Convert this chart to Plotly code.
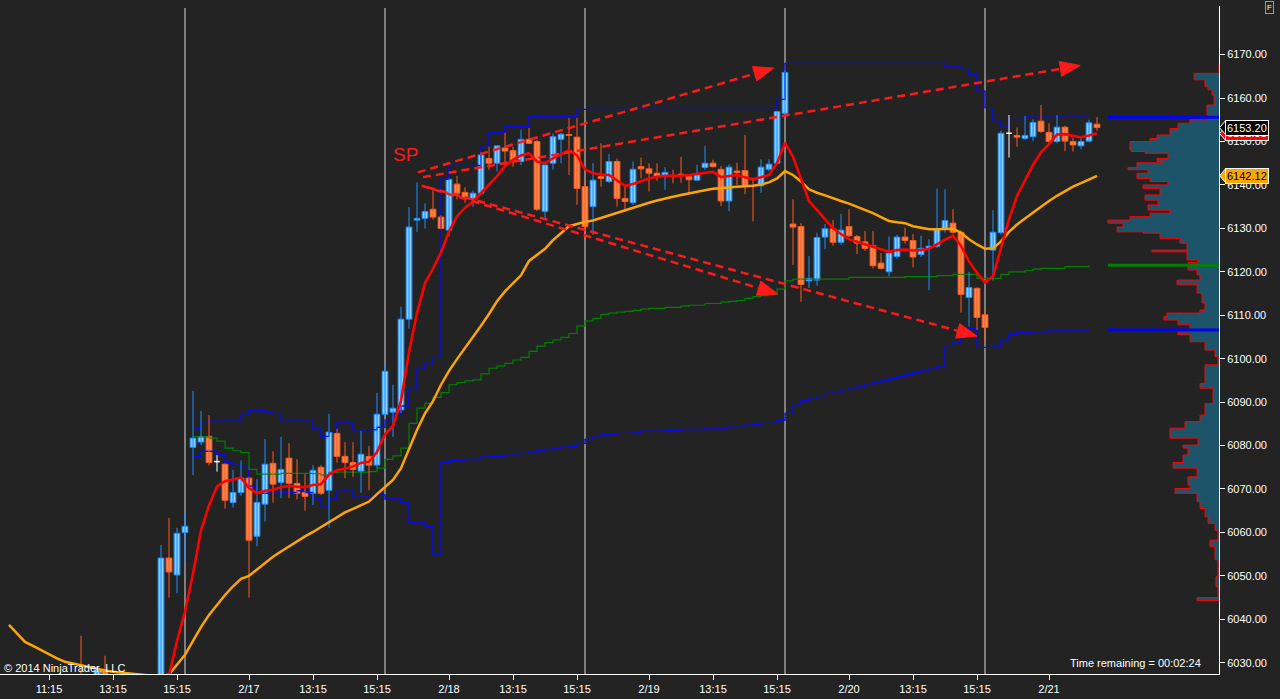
import math
import plotly.graph_objects as go

# ---------------- data ----------------
# 15-minute bars, x = bar index
BAR_IDX = [10, 12, 13] + list(range(20, 138))
OPEN = [6027.0, 6021.0, 6028.3,
        6025.0, 6054.1, 6050.2, 6060.0, 6079.6, 6080.8, 6082.1, 6076.3, 6075.7, 6066.9,
        6069.2, 6072.5, 6059.1, 6066.5, 6075.9, 6071.5, 6077.1, 6071.3, 6069.2, 6069.0,
        6075.0, 6069.7, 6082.8, 6077.5, 6076.1, 6074.1, 6077.5, 6075.5, 6087.2, 6087.7,
        6088.2, 6109.1, 6131.9, 6132.3, 6134.4, 6132.6, 6129.6, 6140.2, 6138.3, 6136.8,
        6138.1, 6146.1, 6145.0, 6148.5, 6147.9, 6145.4, 6150.5, 6150.0, 6133.9, 6145.0,
        6150.5, 6151.6, 6151.0, 6139.6, 6135.0, 6141.9, 6140.8, 6145.4, 6136.9, 6135.9,
        6144.2, 6143.7, 6142.7, 6142.1, 6142.2, 6142.5, 6141.9, 6141.1, 6144.0, 6145.0,
        6143.6, 6136.3, 6143.2, 6143.3, 6141.5, 6139.8, 6143.6, 6145.0, 6156.5, 6131.0,
        6130.4, 6117.9, 6118.1, 6128.0, 6129.9, 6126.8, 6130.4, 6128.1, 6126.9, 6126.0,
        6122.0, 6120.0, 6123.5, 6128.0, 6127.2, 6124.0, 6125.4, 6125.9, 6130.0, 6131.2,
        6129.1, 6114.1, 6116.2, 6110.1, 6125.0, 6129.0, 6151.9, 6151.4, 6150.7, 6151.1,
        6154.7, 6152.1, 6150.0, 6153.3, 6150.0, 6149.0, 6150.1, 6154.0]
HIGH = [6036.2, 6029.0, 6031.6,
        6057.1, 6063.3, 6061.1, 6064.9, 6092.6, 6088.0, 6087.0, 6077.8, 6075.9, 6074.4,
        6076.6, 6072.8, 6072.3, 6081.5, 6078.7, 6082.0, 6080.6, 6076.9, 6073.4, 6075.5,
        6075.5, 6087.3, 6083.8, 6080.8, 6080.8, 6083.4, 6079.9, 6092.1, 6098.9, 6094.0,
        6112.0, 6134.9, 6140.6, 6135.7, 6138.8, 6133.0, 6141.5, 6142.1, 6139.5, 6138.7,
        6147.5, 6148.8, 6149.0, 6152.0, 6148.8, 6152.7, 6153.1, 6150.3, 6144.6, 6151.9,
        6152.0, 6155.4, 6155.4, 6141.1, 6145.0, 6149.6, 6147.1, 6146.1, 6139.6, 6145.4,
        6146.3, 6145.0, 6145.0, 6144.1, 6143.5, 6146.5, 6142.5, 6144.6, 6149.0, 6145.8,
        6144.4, 6144.8, 6145.1, 6151.5, 6141.6, 6145.9, 6145.9, 6157.1, 6166.4, 6136.7,
        6131.2, 6123.6, 6129.0, 6131.0, 6131.9, 6133.3, 6134.4, 6128.5, 6129.4, 6129.4,
        6124.3, 6128.1, 6128.5, 6130.2, 6128.7, 6128.3, 6127.5, 6139.2, 6139.0, 6134.4,
        6129.6, 6120.0, 6116.4, 6111.4, 6134.2, 6152.5, 6156.1, 6153.2, 6155.9, 6155.1,
        6158.4, 6154.2, 6156.1, 6153.6, 6150.9, 6150.9, 6155.0, 6155.6]
LOW = [6020.0, 6019.0, 6022.0,
       6023.0, 6045.0, 6046.0, 6053.3, 6073.2, 6080.1, 6075.4, 6074.0, 6065.5, 6065.7,
       6068.4, 6045.0, 6056.8, 6062.5, 6066.9, 6067.9, 6067.9, 6067.6, 6065.0, 6066.3,
       6068.6, 6061.1, 6076.1, 6072.5, 6072.8, 6069.1, 6069.7, 6074.8, 6086.5, 6082.0,
       6087.5, 6106.9, 6129.2, 6130.0, 6132.0, 6129.8, 6128.1, 6136.7, 6135.9, 6135.0,
       6137.7, 6143.5, 6143.1, 6144.6, 6144.2, 6144.6, 6149.4, 6134.0, 6132.2, 6143.5,
       6145.0, 6142.3, 6135.4, 6127.3, 6128.5, 6139.6, 6140.4, 6135.0, 6133.9, 6135.4,
       6141.5, 6138.5, 6141.0, 6138.9, 6140.4, 6140.5, 6137.9, 6141.0, 6143.5, 6144.0,
       6135.2, 6134.0, 6140.0, 6137.9, 6131.6, 6138.2, 6143.2, 6144.8, 6156.0, 6121.6,
       6113.1, 6116.3, 6116.8, 6125.2, 6126.0, 6126.2, 6128.0, 6124.1, 6124.8, 6120.8,
       6120.5, 6119.0, 6123.0, 6126.5, 6121.0, 6123.4, 6115.8, 6125.5, 6129.0, 6128.8,
       6110.6, 6107.4, 6106.6, 6103.9, 6118.0, 6128.6, 6146.3, 6148.8, 6150.4, 6150.1,
       6152.0, 6149.6, 6149.6, 6147.8, 6147.7, 6148.2, 6149.8, 6152.5]
CLOSE = [6024.0, 6028.3, 6025.5,
         6054.1, 6050.9, 6059.8, 6061.4, 6081.7, 6082.1, 6076.1, 6076.3, 6067.4, 6069.2,
         6072.5, 6058.2, 6066.9, 6075.7, 6071.1, 6074.5, 6071.3, 6069.0, 6068.3, 6074.3,
         6069.0, 6083.1, 6077.5, 6076.1, 6074.5, 6078.0, 6075.5, 6087.2, 6097.1, 6088.6,
         6109.1, 6130.3, 6132.3, 6133.9, 6132.6, 6130.0, 6141.3, 6138.1, 6137.2, 6138.1,
         6146.9, 6145.0, 6149.0, 6147.8, 6145.4, 6150.5, 6149.6, 6134.4, 6144.6, 6151.1,
         6151.7, 6151.4, 6139.2, 6130.4, 6141.1, 6141.5, 6145.4, 6136.9, 6136.2, 6143.6,
         6143.7, 6142.7, 6141.9, 6142.9, 6141.9, 6142.1, 6141.2, 6142.3, 6145.0, 6144.2,
         6136.3, 6144.1, 6142.8, 6139.8, 6141.2, 6144.1, 6144.8, 6156.9, 6165.9, 6130.3,
         6117.1, 6118.5, 6127.9, 6129.9, 6126.8, 6129.6, 6128.3, 6126.6, 6125.4, 6121.4,
         6120.8, 6124.3, 6128.0, 6127.2, 6123.4, 6125.4, 6125.9, 6129.8, 6131.8, 6129.1,
         6114.8, 6116.4, 6109.5, 6107.2, 6129.1, 6151.9, 6151.9, 6151.0, 6151.4, 6154.4,
         6152.3, 6150.0, 6153.3, 6150.1, 6149.2, 6150.0, 6154.3, 6153.2]

# fast moving average (red), starts at bar 21
FAST_MA_START = 21
FAST_MA = [6027.0, 6035.0, 6041.7, 6050.5, 6060.5, 6066.2, 6070.6, 6071.8, 6072.2, 6072.6,
           6070.2, 6069.0, 6069.6, 6069.8, 6070.4, 6070.7, 6070.5, 6070.4, 6070.9, 6071.1,
           6073.3, 6074.3, 6074.7, 6075.2, 6076.0, 6076.3, 6078.5, 6082.6, 6084.5, 6090.3,
           6101.5, 6110.5, 6117.4, 6120.7, 6124.5, 6129.3, 6132.8, 6134.7, 6136.2, 6138.1,
           6140.0, 6142.0, 6144.3, 6145.8, 6146.8, 6147.3, 6145.4, 6145.0, 6146.1, 6147.1,
           6148.0, 6146.8, 6143.6, 6142.7, 6142.4, 6142.3, 6141.1, 6139.8, 6140.2, 6140.9,
           6141.5, 6141.9, 6142.1, 6142.1, 6142.1, 6142.3, 6142.5, 6142.8, 6143.0, 6141.8,
           6142.0, 6142.3, 6141.8, 6141.3, 6141.8, 6142.3, 6145.0, 6149.7, 6146.5, 6141.3,
           6136.3, 6134.2, 6132.0, 6130.0, 6128.7, 6127.5, 6126.9, 6126.3, 6125.8, 6125.2,
           6124.6, 6125.0, 6125.1, 6124.9, 6125.0, 6125.3, 6126.4, 6127.4, 6128.3, 6126.0,
           6122.4, 6119.8, 6117.5, 6119.0, 6125.5, 6132.0, 6137.5, 6141.0, 6144.6, 6147.5,
           6149.4, 6151.6, 6151.7, 6151.3, 6151.0, 6151.4, 6151.9]

# slow moving average (orange), starts at bar 1
SLOW_MA_START = 1
SLOW_MA = [6038.7, 6036.8, 6034.8, 6033.9, 6032.9, 6032.0, 6031.0, 6030.2, 6029.8, 6029.3,
           6028.9, 6028.5, 6028.2, 6027.9, 6027.7, 6027.5, 6027.3, 6027.1, 6026.9, 6026.8,
           6027.3, 6029.6, 6031.8, 6035.0, 6038.2, 6041.0, 6043.4, 6045.6, 6047.6, 6049.3,
           6050.0, 6051.5, 6053.0, 6054.4, 6055.6, 6056.8, 6058.0, 6059.1, 6060.1, 6061.2,
           6062.4, 6063.5, 6064.6, 6065.4, 6066.2, 6067.1, 6068.8, 6070.4, 6072.1, 6074.8,
           6079.4, 6083.6, 6087.4, 6090.2, 6094.0, 6097.2, 6099.9, 6102.4, 6105.0, 6107.6,
           6110.3, 6113.2, 6115.5, 6117.4, 6119.2, 6122.5, 6124.0, 6125.3, 6127.3, 6129.0,
           6130.5, 6131.0, 6131.5, 6131.8, 6132.4, 6133.0, 6133.5, 6134.1, 6134.7, 6135.3,
           6135.9, 6136.4, 6136.9, 6137.3, 6137.7, 6138.1, 6138.4, 6138.8, 6139.1, 6139.3,
           6139.5, 6139.6, 6139.7, 6139.8, 6140.1, 6140.6, 6141.5, 6143.2, 6142.3, 6140.8,
           6139.0, 6138.2, 6137.6, 6136.9, 6136.3, 6135.7, 6135.0, 6134.3, 6133.5, 6132.6,
           6131.7, 6131.4, 6131.2, 6130.5, 6130.1, 6129.8, 6129.8, 6129.9, 6129.9, 6129.0,
           6127.5, 6126.3, 6125.3, 6125.4, 6127.0, 6129.2, 6130.9, 6132.3, 6133.7, 6135.1,
           6136.3, 6137.5, 6138.5, 6139.6, 6140.4, 6141.2, 6142.1]

# step lines (VWAP and bands), start at bar 24
BANDS_START = 24
VWAP = [6082.0, 6082.0, 6081.7, 6081.0, 6079.4, 6078.8, 6078.4, 6074.5, 6073.4, 6073.4,
        6073.4, 6073.6, 6073.6, 6073.6, 6073.6, 6073.5, 6073.2, 6073.8, 6073.9, 6073.9,
        6073.9, 6073.9, 6074.0, 6074.8, 6076.8, 6077.6, 6079.4, 6085.1, 6088.6, 6089.7,
        6091.1, 6092.2, 6094.0, 6094.5, 6094.9, 6095.1, 6096.5, 6097.8, 6098.3, 6098.9,
        6099.7, 6100.3, 6101.7, 6102.9, 6103.7, 6104.3, 6104.9, 6105.8, 6107.5, 6108.7,
        6109.3, 6110.2, 6110.5, 6110.7, 6110.9, 6111.1, 6111.4, 6111.6, 6111.6, 6111.8,
        6111.8, 6112.1, 6112.3, 6112.3, 6112.7, 6112.7, 6113.0, 6113.2, 6113.4, 6113.9,
        6114.3, 6114.5, 6114.8, 6116.0, 6117.9, 6118.3, 6118.3, 6118.3, 6118.3, 6118.3,
        6118.3, 6118.3, 6118.7, 6118.7, 6118.7, 6118.7, 6118.7, 6118.7, 6118.7, 6118.9,
        6118.9, 6118.9, 6118.9, 6119.1, 6119.1, 6119.4, 6119.4, 6119.4, 6118.5, 6118.5,
        6118.5, 6119.4, 6120.0, 6120.0, 6120.3, 6120.6, 6120.8, 6120.8, 6120.8, 6121.2,
        6121.2, 6121.2, 6121.5]
UPPER_BAND = [6084.0, 6085.1, 6085.6, 6085.6, 6085.6, 6085.6, 6087.0, 6088.0, 6088.0, 6087.7,
              6087.4, 6085.6, 6085.6, 6085.6, 6085.6, 6083.8, 6082.1, 6083.2, 6085.4, 6085.4,
              6083.6, 6083.6, 6083.6, 6084.2, 6085.9, 6087.0, 6089.1, 6093.0, 6097.6, 6098.9,
              6100.3, 6141.3, 6144.5, 6144.5, 6144.5, 6144.5, 6149.0, 6152.1, 6152.1, 6153.4,
              6153.4, 6153.4, 6155.7, 6155.7, 6155.7, 6155.7, 6155.7, 6155.7, 6157.4, 6157.4,
              6157.4, 6157.4, 6157.4, 6157.4, 6157.4, 6157.4, 6157.4, 6157.4, 6157.4, 6157.4,
              6157.4, 6157.4, 6157.4, 6157.4, 6157.4, 6157.4, 6157.4, 6157.4, 6157.4, 6157.4,
              6157.4, 6157.4, 6157.4, 6159.7, 6168.0, 6168.0, 6168.0, 6168.0, 6168.0, 6168.0,
              6168.0, 6168.0, 6168.0, 6168.0, 6168.0, 6168.0, 6168.0, 6168.0, 6168.0, 6168.0,
              6168.0, 6168.0, 6168.0, 6168.0, 6167.4, 6167.4, 6167.0, 6165.5, 6161.6, 6157.8,
              6154.7, 6153.3, 6155.1, 6155.1, 6155.6, 6155.6, 6155.6, 6155.6, 6155.6, 6155.6,
              6155.6, 6155.6, 6155.6]
LOWER_BAND = [6077.5, 6078.7, 6078.7, 6078.0, 6076.1, 6075.5, 6075.0, 6070.7, 6069.0, 6069.0,
              6069.0, 6069.2, 6069.2, 6069.6, 6069.2, 6067.9, 6066.1, 6067.9, 6069.5, 6069.8,
              6068.1, 6068.1, 6068.1, 6068.6, 6067.7, 6067.9, 6066.9, 6062.3, 6062.3, 6061.4,
              6054.8, 6076.1, 6076.5, 6076.5, 6076.8, 6076.8, 6077.3, 6077.5, 6077.5, 6077.8,
              6078.1, 6078.2, 6078.5, 6078.9, 6079.1, 6079.4, 6079.6, 6079.8, 6080.5, 6081.4,
              6081.9, 6082.6, 6082.6, 6082.8, 6082.8, 6083.1, 6083.3, 6083.3, 6083.3, 6083.5,
              6083.5, 6083.7, 6083.7, 6083.7, 6084.0, 6084.0, 6084.0, 6084.2, 6084.2, 6084.7,
              6084.9, 6085.1, 6085.1, 6085.8, 6087.4, 6089.3, 6090.4, 6091.0, 6091.5, 6092.0,
              6092.4, 6092.9, 6093.3, 6093.7, 6094.2, 6094.6, 6095.0, 6095.5, 6095.9, 6096.3,
              6096.8, 6097.2, 6097.6, 6098.1, 6103.0, 6103.6, 6107.0, 6107.0, 6102.6, 6102.6,
              6102.9, 6104.3, 6105.6, 6106.0, 6106.0, 6106.2, 6106.2, 6106.4, 6106.4, 6106.6,
              6106.6, 6106.6, 6106.6]

# volume profile (price level, relative volume)
PROFILE_PRICE = [6168.0, 6165.7, 6164.2, 6162.6, 6161.9, 6160.7, 6158.4, 6156.9, 6156.1, 6155.0,
                 6154.2, 6153.0, 6151.5, 6150.7, 6150.0, 6148.1, 6147.7, 6147.3, 6146.1, 6145.4,
                 6145.1, 6144.0, 6143.5, 6142.7, 6141.5, 6140.8, 6140.0, 6139.2, 6137.7, 6136.5,
                 6135.4, 6134.2, 6133.5, 6132.7, 6131.9, 6131.2, 6130.3, 6129.2, 6128.9, 6127.7,
                 6126.6, 6125.0, 6124.6, 6122.7, 6122.1, 6120.4, 6119.3, 6118.1, 6117.0, 6115.1,
                 6112.8, 6111.2, 6110.5, 6109.7, 6108.9, 6107.8, 6106.2, 6105.5, 6103.9, 6102.0,
                 6100.5, 6098.6, 6094.3, 6093.2, 6089.7, 6087.0, 6085.5, 6084.0, 6081.7, 6080.1,
                 6079.4, 6077.8, 6076.1, 6074.8, 6072.8, 6070.9, 6070.1, 6069.0, 6067.1, 6065.5,
                 6063.6, 6062.1, 6060.5, 6058.2, 6056.7, 6053.7, 6049.8, 6047.5, 6045.0, 6044.3]
PROFILE_VOL = [0, 25, 14, 11, 7, 5, 12, 12, 11, 29,
               41, 49, 62, 69, 89, 88, 74, 51, 62, 56,
               82, 91, 71, 82, 69, 51, 76, 59, 74, 61,
               71, 49, 69, 89, 111, 96, 102, 76, 59, 39,
               32, 67, 32, 21, 31, 22, 19, 42, 22, 17,
               14, 19, 52, 55, 41, 29, 41, 29, 14, 4,
               1, 14, 19, 6, 14, 19, 34, 49, 21, 36,
               31, 36, 46, 22, 31, 29, 44, 22, 19, 14,
               11, 4, 1, 9, 4, 1, 3, 1, 22, 0]

# axis labels
TICK_BARS = [6, 14, 22, 31, 39, 47, 56, 64, 72, 81, 89, 97, 106, 114, 122, 131]
TICK_LABELS = ["11:15", "13:15", "15:15", "2/17", "13:15", "15:15", "2/18", "13:15",
               "15:15", "2/19", "13:15", "15:15", "2/20", "13:15", "15:15", "2/21"]
PRICE_TICKS = [6030, 6040, 6050, 6060, 6070, 6080, 6090, 6100, 6110, 6120, 6130, 6140, 6150,
               6160, 6170]
SESSION_BREAKS = [23, 48, 73, 98, 123]

# hand-drawn trend arrows (start bar, start price, end bar, end price)
DRAWN_ARROWS = [(52.1, 6142.9, 96.6, 6166.9),
                (52.75, 6141.8, 134.9, 6167.5),
                (52.6, 6139.8, 97.1, 6114.9),
                (53.25, 6139.5, 122.0, 6105.2)]

LAST_PRICE = 6153.20
FAST_LAST = 6151.85
SLOW_LAST = 6142.12

# ---------------- styling / geometry ----------------
W, H = 1280, 699
M_L, M_R, M_T, M_B = 0, 61, 6, 25
PLOT_W = W - M_L - M_R
PLOT_H = H - M_T - M_B
XR = [-0.125, 152.25]
YR = [6027.4, 6181.2]
PX_X = PLOT_W / (XR[1] - XR[0])
PX_Y = PLOT_H / (YR[1] - YR[0])

BG = "#232323"
UP_FILL, UP_EDGE = "#87CEFA", "#1E90FF"
DN_FILL, DN_EDGE = "#F58A52", "#FF5A1E"
FONT = "Liberation Sans, Arial, sans-serif"

fig = go.Figure()

# volume profile on its own (reversed) x axis anchored at the right edge
fig.add_trace(go.Scatter(x=PROFILE_VOL, y=PROFILE_PRICE, xaxis="x2", yaxis="y",
                         mode="lines", line=dict(color="#FF0000", width=1, shape="vh"),
                         fill="tozerox", fillcolor="#1D5469", hoverinfo="skip"))
PROFILE_LEVEL_LEN = max(PROFILE_VOL)
for lvl, col in [(UPPER_BAND[-1], "#0000FF"), (VWAP[-1], "#008000"), (LOWER_BAND[-1], "#0000FF")]:
    fig.add_trace(go.Scatter(x=[0, PROFILE_LEVEL_LEN], y=[lvl, lvl], xaxis="x2", yaxis="y",
                             mode="lines", line=dict(color=col, width=3), hoverinfo="skip"))

# classify candles
up, dn, dj = [], [], []
for k, i in enumerate(BAR_IDX):
    o, h, l, c = OPEN[k], HIGH[k], LOW[k], CLOSE[k]
    if c > o:
        up.append((i, o, h, l, c))
    elif c < o:
        dn.append((i, o, h, l, c))
    else:
        dj.append((i, o, h, l, c))


def wick_xy(rows):
    xs, ys = [], []
    for i, o, h, l, c in rows:
        xs += [i, i, None]
        ys += [l, h, None]
    return xs, ys


# step lines
bx = list(range(BANDS_START, BANDS_START + len(VWAP)))
fig.add_trace(go.Scatter(x=bx, y=UPPER_BAND, mode="lines",
                         line=dict(color="#0A0AF0", width=1.4, shape="hv"), hoverinfo="skip"))
fig.add_trace(go.Scatter(x=bx, y=LOWER_BAND, mode="lines",
                         line=dict(color="#0A0AF0", width=1.4, shape="hv"), hoverinfo="skip"))
fig.add_trace(go.Scatter(x=bx, y=VWAP, mode="lines",
                         line=dict(color="#008000", width=1.2, shape="hv"), hoverinfo="skip"))

# wicks
for rows, col in [(up, UP_EDGE), (dn, DN_EDGE), (dj, "#FFFFFF")]:
    xs, ys = wick_xy(rows)
    fig.add_trace(go.Scatter(x=xs, y=ys, mode="lines", line=dict(color=col, width=1),
                             hoverinfo="skip"))

# bodies
for rows, fill, edge in [(up, UP_FILL, UP_EDGE), (dn, DN_FILL, DN_EDGE)]:
    fig.add_trace(go.Bar(x=[r[0] for r in rows],
                         y=[abs(r[4] - r[1]) for r in rows],
                         base=[min(r[1], r[4]) for r in rows],
                         width=0.72, marker=dict(color=fill, line=dict(color=edge, width=1)),
                         hoverinfo="skip"))
# doji ticks
dx, dy = [], []
for i, o, h, l, c in dj:
    dx += [i - 0.35, i + 0.35, None]
    dy += [o, o, None]
fig.add_trace(go.Scatter(x=dx, y=dy, mode="lines", line=dict(color="#FFFFFF", width=1.5),
                         hoverinfo="skip"))

# moving averages
fig.add_trace(go.Scatter(x=list(range(SLOW_MA_START, SLOW_MA_START + len(SLOW_MA))), y=SLOW_MA,
                         mode="lines", line=dict(color="#FFA500", width=2.5), hoverinfo="skip"))
fig.add_trace(go.Scatter(x=list(range(FAST_MA_START, FAST_MA_START + len(FAST_MA))), y=FAST_MA,
                         mode="lines", line=dict(color="#FF0000", width=2.6), hoverinfo="skip"))

shapes = []
for s in SESSION_BREAKS:
    shapes.append(dict(type="line", xref="x", yref="paper", x0=s, x1=s, y0=0, y1=0.997,
                       line=dict(color="#DCDCDC", width=1), layer="below"))

# dashed arrows with filled heads
HEAD_L, HEAD_W = 20.0, 15.0
for x0, y0, x1, y1 in DRAWN_ARROWS:
    dxp = (x1 - x0) * PX_X
    dyp = (y1 - y0) * PX_Y
    n = math.hypot(dxp, dyp)
    ux, uy = dxp / n, dyp / n
    bxp, byp = -HEAD_L * ux, -HEAD_L * uy
    px_, py_ = -uy, ux
    base_x = x1 + bxp / PX_X
    base_y = y1 + byp / PX_Y
    c1 = (x1 + (bxp + px_ * HEAD_W / 2) / PX_X, y1 + (byp + py_ * HEAD_W / 2) / PX_Y)
    c2 = (x1 + (bxp - px_ * HEAD_W / 2) / PX_X, y1 + (byp - py_ * HEAD_W / 2) / PX_Y)
    shapes.append(dict(type="line", xref="x", yref="y", x0=x0, y0=y0, x1=base_x, y1=base_y,
                       line=dict(color="#FF1A1A", width=2.5, dash="8px,5px")))
    shapes.append(dict(type="path", xref="x", yref="y",
                       path=f"M {x1} {y1} L {c1[0]} {c1[1]} L {c2[0]} {c2[1]} Z",
                       fillcolor="#FF1A1A", line=dict(color="#FF1A1A", width=1)))

# price-marker pointers on the axis
for price, col in [(FAST_LAST, "#FF0000"), (LAST_PRICE, "#000000"), (SLOW_LAST, "#FFA500")]:
    hh = 7.5 / PX_Y
    shapes.append(dict(type="path", xref="paper", yref="y",
                       path=f"M 1.0005 {price} L {1 + 7 / PLOT_W} {price + hh} L {1 + 7 / PLOT_W} {price - hh} Z",
                       fillcolor=col, line=dict(color="#FFFFFF", width=1)))

annotations = [
    dict(text="SP", x=50.6, y=6147.1, xref="x", yref="y", showarrow=False,
         font=dict(color="#FF1A1A", size=19, family=FONT)),
    dict(text="© 2014 NinjaTrader, LLC", x=0.002, y=(674 - 668) / PLOT_H, xref="paper", yref="paper",
         xanchor="left", yanchor="middle", showarrow=False,
         font=dict(color="#FFFFFF", size=11, family=FONT)),
    dict(text="Time remaining = 00:02:24", x=1203 / PLOT_W, y=(674 - 663) / PLOT_H,
         xref="paper", yref="paper", xanchor="right", yanchor="middle", showarrow=False,
         font=dict(color="#FFFFFF", size=11, family=FONT)),
    dict(text=f"{FAST_LAST:.2f}", x=1, xshift=6, y=FAST_LAST, xref="paper", yref="y",
         xanchor="left", yanchor="middle", showarrow=False, bgcolor="#FF0000",
         bordercolor="#FFFFFF", borderwidth=1, borderpad=1,
         font=dict(color="#FFFFFF", size=11, family=FONT)),
    dict(text=f"{LAST_PRICE:.2f}", x=1, xshift=6, y=LAST_PRICE, xref="paper", yref="y",
         xanchor="left", yanchor="middle", showarrow=False, bgcolor="#000000",
         bordercolor="#FFFFFF", borderwidth=1, borderpad=1,
         font=dict(color="#FFFFFF", size=11, family=FONT)),
    dict(text=f"{SLOW_LAST:.2f}", x=1, xshift=6, y=SLOW_LAST, xref="paper", yref="y",
         xanchor="left", yanchor="middle", showarrow=False, bgcolor="#FFA500",
         bordercolor="#FFFFFF", borderwidth=1, borderpad=1,
         font=dict(color="#000000", size=11, family=FONT)),
    dict(text="F", x=1269.5 / PLOT_W, y=(674 - 8) / PLOT_H, xref="paper", yref="paper",
         xanchor="center", yanchor="middle", showarrow=False, bgcolor=BG,
         bordercolor="#9A9A9A", borderwidth=1, borderpad=1,
         font=dict(color="#FFFFFF", size=8, family=FONT)),
]

fig.update_layout(
    width=W, height=H,
    margin=dict(l=M_L, r=M_R, t=M_T, b=M_B),
    paper_bgcolor=BG, plot_bgcolor=BG,
    showlegend=False, barmode="overlay",
    shapes=shapes, annotations=annotations,
    xaxis=dict(range=XR, showgrid=False, zeroline=False, showline=True, linecolor="#FFFFFF",
               linewidth=1, ticks="outside", ticklen=5, tickcolor="#FFFFFF",
               tickvals=TICK_BARS, ticktext=TICK_LABELS,
               tickfont=dict(color="#FFFFFF", size=11, family=FONT), fixedrange=True),
    xaxis2=dict(overlaying="x", range=[PLOT_W, 0], visible=False, fixedrange=True),
    yaxis=dict(range=YR, side="right", showgrid=False, zeroline=False, showline=True,
               linecolor="#FFFFFF", linewidth=1, ticks="outside", ticklen=5, tickcolor="#FFFFFF",
               tickvals=PRICE_TICKS, tickformat=".2f",
               tickfont=dict(color="#FFFFFF", size=11, family=FONT), fixedrange=True),
)

fig.write_html("out.html", config={"displayModeBar": False},
               post_script="document.body.style.margin='0';document.body.style.overflow='hidden';"
                           "document.body.style.background='" + BG + "';")
